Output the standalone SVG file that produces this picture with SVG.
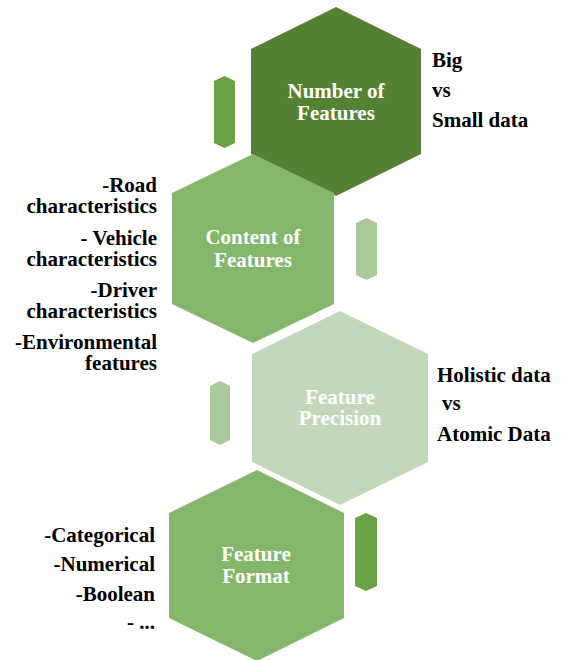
<svg xmlns="http://www.w3.org/2000/svg" width="561" height="660" viewBox="0 0 561 660">
  <style>
    .hex-dark { fill: #548235; }
    .hex-mid { fill: #84B66B; }
    .hex-light { fill: #C3D8BB; }
    .bar-strong { fill: #6AA245; }
    .bar-soft { fill: #A9CA98; }
    .title { font-family: "Liberation Serif", "Times New Roman", serif; font-weight: bold; font-size: 21px; fill: #FFFFFF; text-anchor: middle; }
    .note { font-family: "Liberation Serif", "Times New Roman", serif; font-weight: bold; font-size: 21px; fill: #000000; }
    .note-r { text-anchor: end; }
  </style>
  <rect width="561" height="660" fill="#FFFFFF"/>

  <!-- side bars beside each hexagon -->
  <g id="connectors">
    <polygon class="bar-strong" points="224.5,76 235,81 235,143 224.5,148 214,143 214,81"/>
    <polygon class="bar-soft" points="366.5,218 377,223 377,275 366.5,280 356,275 356,223"/>
    <polygon class="bar-soft" points="220,381 230,386 230,440 220,445 210,440 210,386"/>
    <polygon class="bar-strong" points="366,513 377,518 377,586 366,591 355,586 355,518"/>
  </g>

  <g id="number-of-features">
    <polygon class="hex-dark" points="336,7 421,49 421,154 336,196 251,154 251,49"/>
    <text class="title" x="336" y="98">Number of</text>
    <text class="title" x="336" y="120">Features</text>
    <text class="note" x="432" y="67">Big</text>
    <text class="note" x="432" y="97">vs</text>
    <text class="note" x="432" y="127">Small data</text>
  </g>

  <g id="content-of-features">
    <polygon class="hex-mid" points="253,154 334,193 334,304 253,343 172,304 172,193"/>
    <text class="title" x="253" y="244">Content of</text>
    <text class="title" x="253" y="267">Features</text>
    <text class="note note-r" x="157" y="192">-Road</text>
    <text class="note note-r" x="157" y="213">characteristics</text>
    <text class="note note-r" x="157" y="245">- Vehicle</text>
    <text class="note note-r" x="157" y="266">characteristics</text>
    <text class="note note-r" x="157" y="297">-Driver</text>
    <text class="note note-r" x="157" y="318">characteristics</text>
    <text class="note note-r" x="157" y="349">-Environmental</text>
    <text class="note note-r" x="157" y="370">features</text>
  </g>

  <g id="feature-precision">
    <polygon class="hex-light" points="340,311 428,354 428,462 340,505 252,462 252,354"/>
    <text class="title" x="340" y="404">Feature</text>
    <text class="title" x="340" y="425">Precision</text>
    <text class="note" x="437" y="382">Holistic data</text>
    <text class="note" x="442" y="410">vs</text>
    <text class="note" x="437" y="441">Atomic Data</text>
  </g>

  <g id="feature-format">
    <polygon class="hex-mid" points="257,470 344,513 344,618 257,661 169,618 169,513"/>
    <text class="title" x="256" y="561">Feature</text>
    <text class="title" x="256" y="583">Format</text>
    <text class="note note-r" x="155" y="542">-Categorical</text>
    <text class="note note-r" x="155" y="571">-Numerical</text>
    <text class="note note-r" x="155" y="601">-Boolean</text>
    <text class="note note-r" x="155" y="629">- ...</text>
  </g>
</svg>
